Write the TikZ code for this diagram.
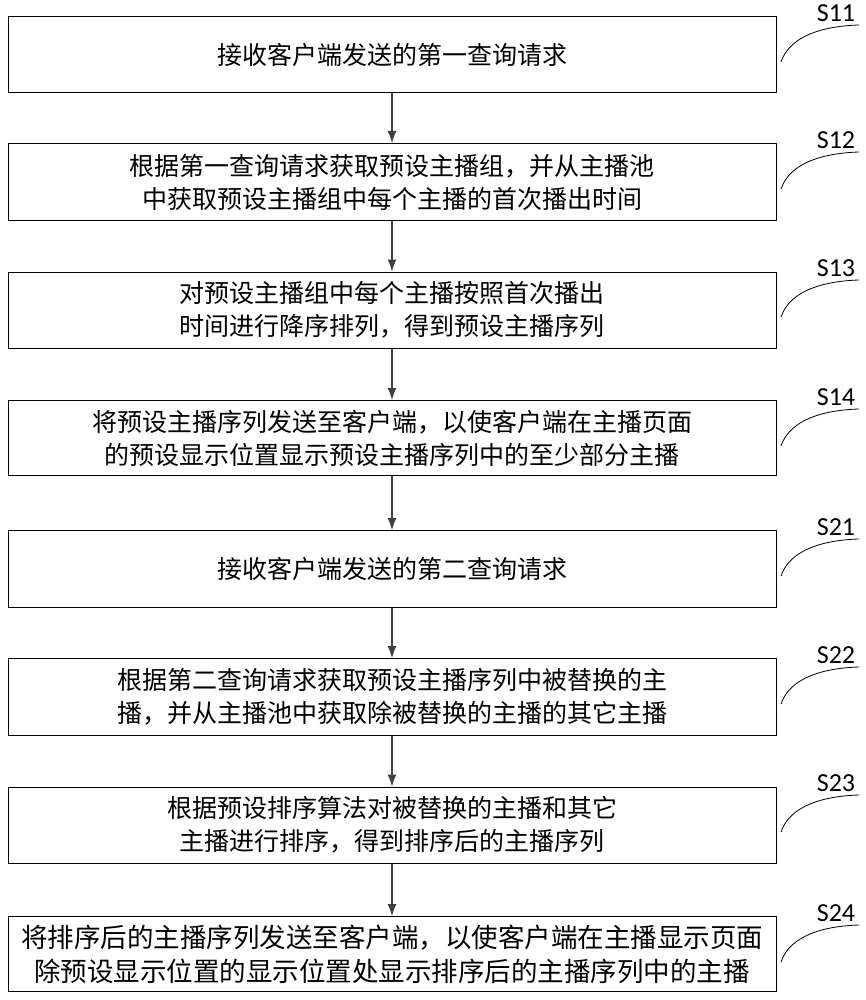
\documentclass[tikz,border=0pt]{standalone}
\usepackage{fontspec}
\setmainfont{Noto Sans CJK SC}
\newfontfamily\labfont{Carlito}
\usetikzlibrary{arrows.meta}
\begin{document}
\begin{tikzpicture}[x=1pt,y=-1pt,
  box/.style={draw,line width=1pt,minimum width=768pt,align=center,font=\fontsize{25}{33}\selectfont,inner sep=0pt},
  arr/.style={-{Latex[length=12pt,width=9pt]},line width=1.2pt,draw=black!75},
  lab/.style={font=\labfont\fontsize{26}{28}\selectfont}]
\path[use as bounding box] (0,0) rectangle (865,1000);
\def\bx#1#2#3#4{\node[box,minimum height=#3pt] (#1) at (392,#2) {#4};}
\bx{b1}{55}{76}{接收客户端发送的第一查询请求}
\bx{b2}{182}{77}{根据第一查询请求获取预设主播组，并从主播池\\中获取预设主播组中每个主播的首次播出时间}
\bx{b3}{310}{76}{对预设主播组中每个主播按照首次播出\\时间进行降序排列，得到预设主播序列}
\bx{b4}{438}{75}{将预设主播序列发送至客户端，以使客户端在主播页面\\的预设显示位置显示预设主播序列中的至少部分主播}
\bx{b5}{569}{77}{接收客户端发送的第二查询请求}
\bx{b6}{697}{77}{根据第二查询请求获取预设主播序列中被替换的主\\播，并从主播池中获取除被替换的主播的其它主播}
\bx{b7}{825}{76}{根据预设排序算法对被替换的主播和其它\\主播进行排序，得到排序后的主播序列}
\node[box,minimum height=75pt,font=\fontsize{26.5}{34}\selectfont] (b8) at (392,954) {将排序后的主播序列发送至客户端，以使客户端在主播显示页面\\除预设显示位置的显示位置处显示排序后的主播序列中的主播};
\foreach \a/\b in {b1/b2,b2/b3,b3/b4,b4/b5,b5/b6,b6/b7,b7/b8}
  \draw[arr] (\a.south) -- (\b.north);
\foreach \n/\t/\y in {b1/S11/17,b2/S12/144,b3/S13/272,b4/S14/401,b5/S21/531,b6/S22/659,b7/S23/787,b8/S24/917}{
  \node[lab] (l\n) at (836,\y-4) {\t};
  \coordinate (c\n) at (781,\y+45);
  \coordinate (d\n) at (859,\y+8);
  \draw[line width=0.8pt] (c\n) .. controls (790,\y+18) and (825,\y+9) .. (d\n);
}
\end{tikzpicture}
\end{document}
